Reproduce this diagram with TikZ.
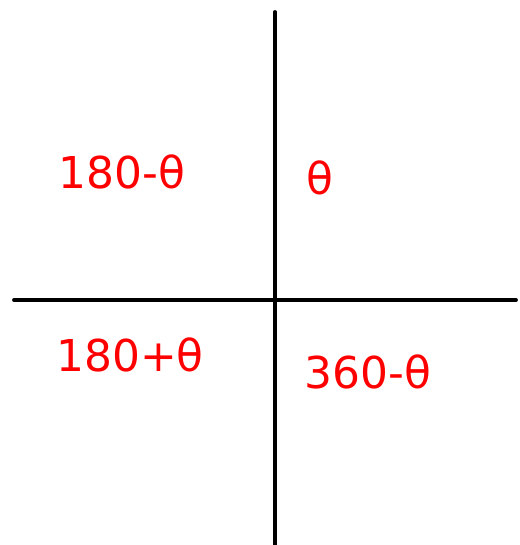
\documentclass[tikz,border=0pt]{standalone}
\usepackage{fontspec}
\setmainfont{DejaVu Sans}
\tikzstyle{angle} = [text=red, font=\fontsize{25}{28}\selectfont, inner sep=0pt]
\tikzstyle{axis} = [line width=2.2pt, line cap=round]

\begin{document}
\begin{tikzpicture}[x=0.02cm,y=0.02cm]
\useasboundingbox (0,0) rectangle (520,545);
\coordinate (top) at (275,533);
\coordinate (bottom) at (275,0);
\coordinate (left) at (14,245);
\coordinate (right) at (516,245);
\draw[axis] (top) -- (bottom);
\draw[axis] (left) -- (right);
\node[angle] (q2) at (122,373) {180-θ};
\node[angle] (q1) at (320,367) {θ};
\node[angle] (q3) at (130,190) {180+θ};
\node[angle] (q4) at (368,173) {360-θ};
\end{tikzpicture}
\end{document}
